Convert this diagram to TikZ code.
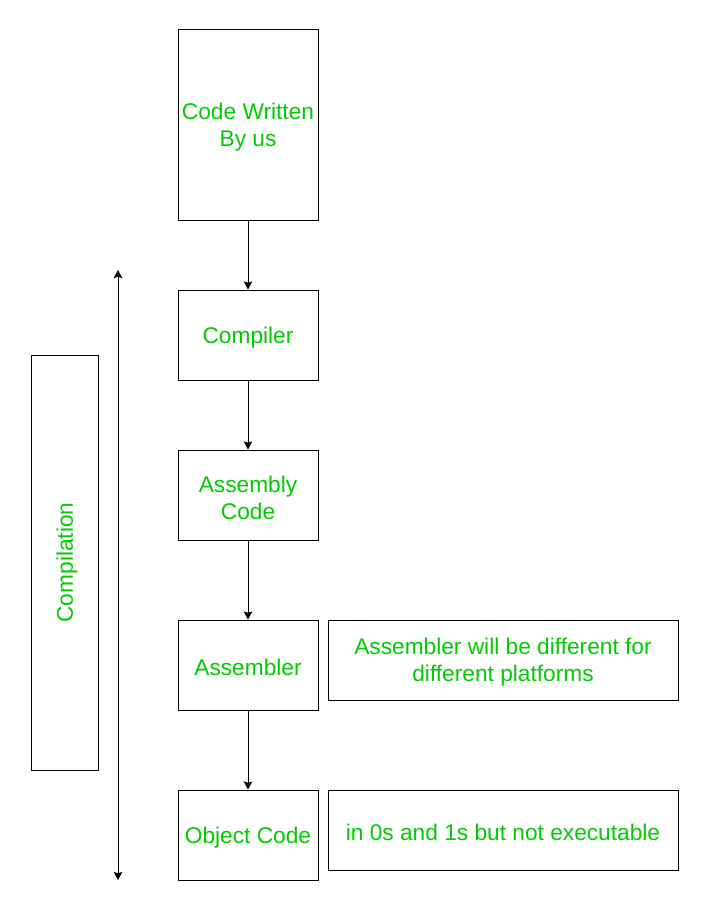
\documentclass[tikz,border=0pt]{standalone}
\usepackage{fontspec}
\setmainfont{Liberation Sans}
\usetikzlibrary{arrows.meta}
\definecolor{txtgreen}{RGB}{0,204,0}
\tikzset{
  box/.style={draw=black, line width=1pt, fill=white, inner sep=0pt},
  lbl/.style={text=txtgreen, align=center, font=\fontsize{22.7}{27}\selectfont, inner sep=0pt, yshift=-2.5pt},
  flow/.style={draw=black, line width=1pt, -{Stealth[length=8pt,width=8.5pt,inset=1.2pt]}},
  span/.style={draw=black, line width=1pt, {Stealth[length=8pt,width=8.5pt,inset=1.2pt]}-{Stealth[length=8pt,width=8.5pt,inset=1.2pt]}}
}
\begin{document}
\begin{tikzpicture}[x=1pt,y=-1pt]
\useasboundingbox (0,0) rectangle (709,920);
\node[box, minimum width=140pt, minimum height=190pt] (code) at (248,125) {};
\node[box, minimum width=140pt, minimum height=90pt] (comp) at (248,335) {};
\node[box, minimum width=140pt, minimum height=90pt] (asmc) at (248,495) {};
\node[box, minimum width=140pt, minimum height=90pt] (asm) at (248,665) {};
\node[box, minimum width=140pt, minimum height=90pt] (obj) at (248,835) {};
\node[box, minimum width=350pt, minimum height=80pt] (note1) at (503,660) {};
\node[box, minimum width=350pt, minimum height=80pt] (note2) at (503,830) {};
\node[box, minimum width=67pt, minimum height=415pt] (cbox) at (64.5,562.5) {};
\node[lbl] (codet) at (code.center) {Code Written\\By us};
\node[lbl] (compt) at (comp.center) {Compiler};
\node[lbl] (asmct) at (asmc.center) {Assembly\\Code};
\node[lbl] (asmt) at (asm.center) {Assembler};
\node[lbl] (objt) at (obj.center) {Object Code};
\node[lbl] (note1t) at (note1.center) {Assembler will be different for\\different platforms};
\node[lbl] (note2t) at (note2.center) {in 0s and 1s but not executable};
\node[lbl, yshift=2.5pt, xshift=2.5pt, rotate=90] (clabel) at (cbox.center) {Compilation};
\coordinate (top) at (118,270);
\coordinate (bot) at (118,880);
\draw[flow] (code) -- (comp);
\draw[flow] (comp) -- (asmc);
\draw[flow] (asmc) -- (asm);
\draw[flow] (asm) -- (obj);
\draw[span] (top) -- (bot);
\end{tikzpicture}
\end{document}
